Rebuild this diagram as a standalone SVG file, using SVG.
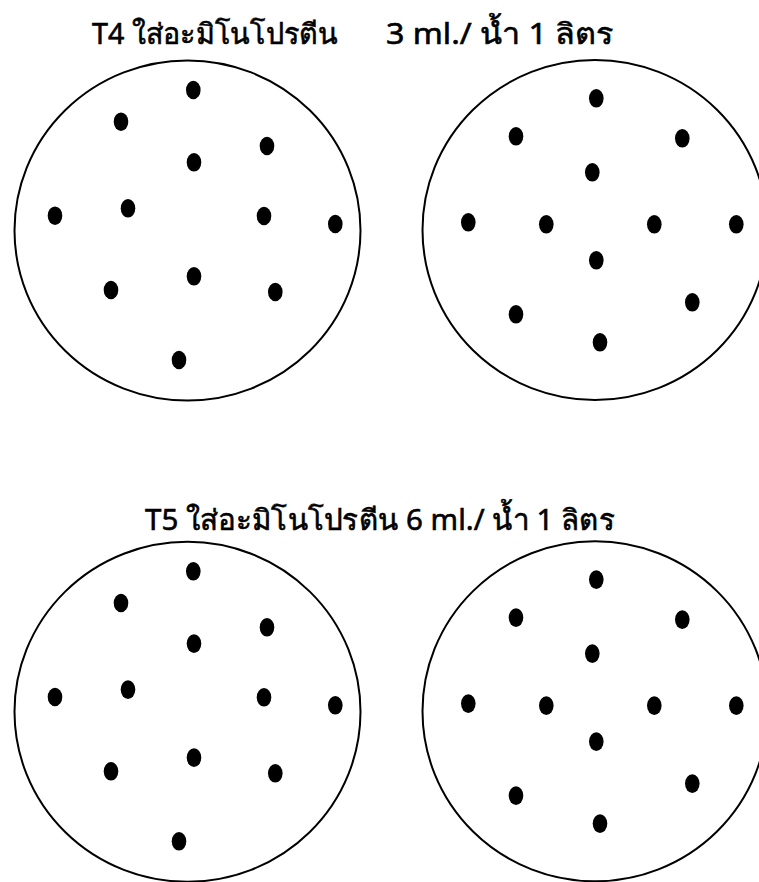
<svg xmlns="http://www.w3.org/2000/svg" width="759" height="882" viewBox="0 0 759 882">
<style>
.dish{fill:none;stroke:#000;stroke-width:2}
.dot{fill:#000}
.t{font-family:"Noto Sans","DejaVu Sans","Liberation Sans",sans-serif;font-size:29px;font-weight:normal;fill:#000;stroke:#000;stroke-width:0.6}
</style>
<defs>
<ellipse id="d" class="dot" rx="7.3" ry="9.3"/>
<g id="dishL">
<ellipse class="dish" cx="187.5" cy="230.5" rx="173" ry="170"/>
<use href="#d" x="193.3" y="90"/>
<use href="#d" x="121" y="121.7"/>
<use href="#d" x="267" y="146"/>
<use href="#d" x="194" y="162.3"/>
<use href="#d" x="55" y="215.7"/>
<use href="#d" x="128" y="208.3"/>
<use href="#d" x="264" y="216"/>
<use href="#d" x="335.3" y="224"/>
<use href="#d" x="194" y="276.3"/>
<use href="#d" x="111" y="290"/>
<use href="#d" x="275.3" y="292"/>
<use href="#d" x="179" y="360"/>
</g>
<g id="dishR">
<ellipse class="dish" cx="595" cy="230" rx="172.5" ry="170"/>
<use href="#d" x="596.3" y="98.3"/>
<use href="#d" x="516" y="136.3"/>
<use href="#d" x="682.3" y="138.3"/>
<use href="#d" x="592.3" y="172.3"/>
<use href="#d" x="468.3" y="222.3"/>
<use href="#d" x="546.3" y="224.3"/>
<use href="#d" x="654.3" y="224.3"/>
<use href="#d" x="736.3" y="224.3"/>
<use href="#d" x="596.3" y="260.3"/>
<use href="#d" x="692.3" y="302.3"/>
<use href="#d" x="516" y="314.3"/>
<use href="#d" x="600" y="342.3"/>
</g>
</defs>
<rect width="759" height="882" fill="#fff"/>
<g id="title-t4">
<text class="t" x="92" y="44" textLength="246" lengthAdjust="spacingAndGlyphs">T4 ใส่อะมิโนโปรตีน</text>
<text class="t" x="386" y="44" textLength="228" lengthAdjust="spacingAndGlyphs">3 ml./ น้ำ 1 ลิตร</text>
</g>
<g id="dish-t4-a"><use href="#dishL"/></g>
<g id="dish-t4-b"><use href="#dishR"/></g>
<g id="title-t5">
<text class="t" x="145" y="530" textLength="470" lengthAdjust="spacingAndGlyphs">T5 ใส่อะมิโนโปรตีน 6 ml./ น้ำ 1 ลิตร</text>
</g>
<g id="dish-t5-a"><use href="#dishL" y="481.3"/></g>
<g id="dish-t5-b"><use href="#dishR" y="481.3"/></g>
</svg>
